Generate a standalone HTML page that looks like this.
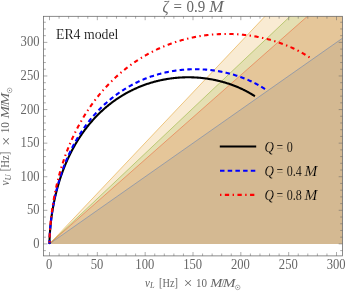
<!DOCTYPE html>
<html><head><meta charset="utf-8"><title>plot</title>
<style>
html,body{margin:0;padding:0;background:#fff;overflow:hidden}
svg{display:block;position:absolute;left:0;top:0;will-change:transform}
text{font-family:"Liberation Serif",serif;}
.g{fill:#666}
.i{font-style:italic}
</style></head><body>
<svg width="347" height="294" viewBox="0 0 347 294">
<rect x="0" y="0" width="347" height="294" fill="#fff"/>
<defs><clipPath id="c"><rect x="43.45" y="16.3" width="299.15" height="239.6"/></clipPath></defs>
<g clip-path="url(#c)">
<polygon points="49.5,243.9 342.63,38.09 342.63,243.9" fill="#5E81B5" fill-opacity="0.2"/>
<polygon points="49.5,243.9 342.63,-65.64 342.63,243.9" fill="#E19C24" fill-opacity="0.2"/>
<polygon points="49.5,243.9 342.63,-33.32 342.63,243.9" fill="#8FB032" fill-opacity="0.2"/>
<polygon points="49.5,243.9 342.63,-14.8 342.63,243.9" fill="#EB6235" fill-opacity="0.2"/>
<line x1="49.5" y1="243.9" x2="342.63" y2="38.09" stroke="#5E81B5" stroke-width="0.6" stroke-opacity="0.9"/>
<line x1="49.5" y1="243.9" x2="342.63" y2="-65.64" stroke="#E19C24" stroke-width="0.6" stroke-opacity="0.9"/>
<line x1="49.5" y1="243.9" x2="342.63" y2="-33.32" stroke="#8FB032" stroke-width="0.6" stroke-opacity="0.9"/>
<line x1="49.5" y1="243.9" x2="342.63" y2="-14.8" stroke="#EB6235" stroke-width="0.6" stroke-opacity="0.9"/>
<path d="M254.89 96.25 L254.31 95.87 L253.72 95.49 L253.12 95.11 L252.52 94.74 L251.93 94.37 L251.32 94.01 L250.72 93.65 L250.11 93.3 L249.5 92.95 L248.89 92.6 L248.28 92.26 L247.66 91.92 L247.05 91.59 L246.43 91.26 L245.8 90.93 L245.18 90.61 L244.55 90.29 L243.92 89.98 L243.29 89.67 L242.66 89.36 L242.03 89.06 L241.39 88.76 L240.75 88.47 L240.11 88.17 L239.47 87.89 L238.83 87.61 L238.18 87.33 L237.54 87.05 L236.89 86.78 L236.24 86.52 L235.59 86.25 L234.94 85.99 L234.28 85.74 L233.62 85.49 L232.97 85.24 L232.31 85 L231.65 84.76 L230.99 84.52 L230.32 84.29 L229.66 84.06 L228.99 83.84 L228.33 83.62 L227.66 83.4 L226.99 83.19 L226.32 82.98 L225.64 82.77 L224.97 82.57 L224.3 82.37 L223.62 82.18 L222.95 81.99 L222.27 81.8 L221.59 81.62 L220.91 81.44 L220.23 81.27 L219.55 81.1 L218.87 80.93 L218.18 80.77 L217.5 80.61 L216.81 80.45 L216.13 80.3 L215.44 80.15 L214.75 80 L214.07 79.86 L213.38 79.73 L212.69 79.59 L212 79.46 L211.31 79.34 L210.61 79.22 L209.92 79.1 L209.23 78.98 L208.53 78.87 L207.84 78.76 L207.15 78.66 L206.45 78.56 L205.75 78.47 L205.06 78.37 L204.36 78.29 L203.66 78.2 L202.97 78.12 L202.27 78.04 L201.57 77.97 L200.87 77.9 L200.17 77.83 L199.47 77.77 L198.77 77.71 L198.07 77.66 L197.37 77.61 L196.67 77.56 L195.97 77.52 L195.26 77.48 L194.56 77.44 L193.86 77.41 L193.16 77.38 L192.46 77.36 L191.75 77.34 L191.05 77.32 L190.35 77.31 L189.65 77.3 L188.95 77.29 L188.24 77.29 L187.54 77.29 L186.84 77.3 L186.13 77.31 L185.43 77.32 L184.73 77.34 L184.03 77.36 L183.33 77.38 L182.62 77.41 L181.92 77.44 L181.22 77.48 L180.52 77.52 L179.82 77.56 L179.12 77.61 L178.42 77.66 L177.72 77.71 L177.02 77.77 L176.32 77.83 L175.62 77.9 L174.92 77.97 L174.22 78.04 L173.52 78.12 L172.82 78.2 L172.13 78.29 L171.43 78.38 L170.73 78.47 L170.04 78.57 L169.34 78.67 L168.65 78.77 L167.95 78.88 L167.26 78.99 L166.57 79.1 L165.87 79.22 L165.18 79.35 L164.49 79.47 L163.8 79.6 L163.11 79.74 L162.42 79.87 L161.73 80.02 L161.05 80.16 L160.36 80.31 L159.67 80.46 L158.99 80.62 L158.31 80.78 L157.62 80.95 L156.94 81.11 L156.26 81.29 L155.58 81.46 L154.9 81.64 L154.22 81.83 L153.54 82.01 L152.87 82.2 L152.19 82.4 L151.52 82.6 L150.85 82.8 L150.17 83 L149.5 83.21 L148.83 83.43 L148.17 83.64 L147.5 83.86 L146.83 84.09 L146.17 84.32 L145.51 84.55 L144.84 84.78 L144.18 85.02 L143.52 85.27 L142.87 85.51 L142.21 85.76 L141.55 86.02 L140.9 86.27 L140.25 86.54 L139.6 86.8 L138.95 87.07 L138.3 87.34 L137.66 87.62 L137.01 87.9 L136.37 88.18 L135.73 88.47 L135.09 88.76 L134.45 89.05 L133.81 89.35 L133.18 89.65 L132.55 89.96 L131.91 90.26 L131.28 90.58 L130.66 90.89 L130.03 91.21 L129.41 91.53 L128.78 91.86 L128.16 92.19 L127.54 92.52 L126.93 92.86 L126.31 93.2 L125.7 93.54 L125.09 93.89 L124.48 94.24 L123.87 94.59 L123.27 94.95 L122.67 95.31 L122.06 95.67 L121.46 96.04 L120.87 96.41 L120.27 96.78 L119.68 97.16 L119.09 97.54 L118.5 97.92 L117.92 98.31 L117.33 98.7 L116.75 99.1 L116.17 99.49 L115.59 99.89 L115.02 100.3 L114.44 100.7 L113.87 101.11 L113.3 101.52 L112.74 101.94 L112.17 102.36 L111.61 102.78 L111.05 103.21 L110.5 103.63 L109.94 104.06 L109.39 104.5 L108.84 104.94 L108.29 105.38 L107.75 105.82 L107.2 106.27 L106.66 106.72 L106.13 107.17 L105.59 107.62 L105.06 108.08 L104.53 108.54 L104 109.01 L103.47 109.47 L102.95 109.94 L102.43 110.41 L101.91 110.89 L101.4 111.36 L100.89 111.85 L100.38 112.33 L99.87 112.81 L99.36 113.3 L98.86 113.79 L98.36 114.29 L97.86 114.78 L97.37 115.28 L96.88 115.78 L96.39 116.29 L95.9 116.8 L95.42 117.3 L94.94 117.82 L94.46 118.33 L93.98 118.85 L93.51 119.37 L93.04 119.89 L92.57 120.41 L92.1 120.94 L91.64 121.47 L91.18 122 L90.72 122.53 L90.27 123.07 L89.82 123.6 L89.37 124.14 L88.92 124.69 L88.48 125.23 L88.03 125.78 L87.6 126.33 L87.16 126.88 L86.73 127.43 L86.3 127.99 L85.87 128.54 L85.45 129.1 L85.02 129.66 L84.6 130.23 L84.19 130.79 L83.77 131.36 L83.36 131.93 L82.95 132.5 L82.55 133.08 L82.14 133.65 L81.74 134.23 L81.35 134.81 L80.95 135.39 L80.56 135.97 L80.17 136.56 L79.78 137.14 L79.4 137.73 L79.02 138.32 L78.64 138.91 L78.26 139.51 L77.89 140.1 L77.52 140.7 L77.15 141.3 L76.79 141.9 L76.42 142.5 L76.06 143.1 L75.71 143.71 L75.35 144.31 L75 144.92 L74.65 145.53 L74.31 146.14 L73.96 146.76 L73.62 147.37 L73.28 147.99 L72.95 148.6 L72.61 149.22 L72.28 149.84 L71.96 150.46 L71.63 151.09 L71.31 151.71 L70.99 152.34 L70.67 152.96 L70.36 153.59 L70.04 154.22 L69.73 154.85 L69.43 155.48 L69.12 156.12 L68.82 156.75 L68.52 157.39 L68.23 158.02 L67.93 158.66 L67.64 159.3 L67.35 159.94 L67.07 160.58 L66.78 161.22 L66.5 161.87 L66.22 162.51 L65.95 163.16 L65.67 163.81 L65.4 164.45 L65.13 165.1 L64.87 165.75 L64.6 166.41 L64.34 167.06 L64.08 167.71 L63.83 168.36 L63.57 169.02 L63.32 169.68 L63.07 170.33 L62.83 170.99 L62.58 171.65 L62.34 172.31 L62.1 172.97 L61.87 173.63 L61.63 174.29 L61.4 174.96 L61.17 175.62 L60.95 176.29 L60.72 176.95 L60.5 177.62 L60.28 178.29 L60.06 178.95 L59.85 179.62 L59.63 180.29 L59.42 180.96 L59.22 181.63 L59.01 182.31 L58.81 182.98 L58.61 183.65 L58.41 184.33 L58.21 185 L58.02 185.68 L57.83 186.35 L57.64 187.03 L57.45 187.7 L57.26 188.38 L57.08 189.06 L56.9 189.74 L56.72 190.42 L56.55 191.1 L56.37 191.78 L56.2 192.46 L56.03 193.14 L55.87 193.83 L55.7 194.51 L55.54 195.19 L55.38 195.88 L55.22 196.56 L55.06 197.25 L54.91 197.93 L54.76 198.62 L54.61 199.3 L54.46 199.99 L54.32 200.68 L54.17 201.37 L54.03 202.05 L53.9 202.74 L53.76 203.43 L53.62 204.12 L53.49 204.81 L53.36 205.5 L53.23 206.19 L53.11 206.88 L52.99 207.58 L52.86 208.27 L52.74 208.96 L52.63 209.65 L52.51 210.35 L52.4 211.04 L52.29 211.73 L52.18 212.43 L52.07 213.12 L51.97 213.82 L51.86 214.51 L51.76 215.21 L51.67 215.9 L51.57 216.6 L51.47 217.29 L51.38 217.99 L51.29 218.69 L51.2 219.38 L51.12 220.08 L51.03 220.78 L50.95 221.48 L50.87 222.17 L50.8 222.87 L50.72 223.57 L50.65 224.27 L50.57 224.97 L50.51 225.67 L50.44 226.37 L50.37 227.07 L50.31 227.77 L50.25 228.47 L50.19 229.17 L50.13 229.87 L50.08 230.57 L50.03 231.27 L49.98 231.97 L49.93 232.67 L49.88 233.37 L49.84 234.07 L49.8 234.77 L49.76 235.47 L49.73 236.18 L49.69 236.88 L49.66 237.58 L49.63 238.28 L49.6 238.98 L49.58 239.69 L49.56 240.39 L49.54 241.09 L49.52 241.79 L49.51 242.49 L49.5 243.2 L49.5 243.9 L49.5 243.9" fill="none" stroke="#000" stroke-width="2.1"/>
<path d="M265.01 89.1 L264.42 88.72 L263.83 88.34 L263.24 87.96 L262.64 87.59 L262.05 87.22 L261.45 86.86 L260.84 86.5 L260.24 86.14 L259.63 85.79 L259.02 85.44 L258.41 85.1 L257.8 84.76 L257.18 84.42 L256.56 84.09 L255.94 83.76 L255.32 83.43 L254.69 83.11 L254.07 82.79 L253.44 82.48 L252.81 82.17 L252.18 81.87 L251.55 81.56 L250.91 81.26 L250.27 80.97 L249.63 80.68 L248.99 80.39 L248.35 80.11 L247.71 79.83 L247.06 79.55 L246.41 79.28 L245.77 79.01 L245.12 78.75 L244.46 78.49 L243.81 78.23 L243.16 77.97 L242.5 77.72 L241.84 77.48 L241.18 77.24 L240.52 77 L239.86 76.76 L239.2 76.53 L238.53 76.3 L237.87 76.08 L237.2 75.86 L236.53 75.64 L235.87 75.43 L235.2 75.22 L234.52 75.01 L233.85 74.81 L233.18 74.61 L232.51 74.42 L231.83 74.22 L231.15 74.04 L230.48 73.85 L229.8 73.67 L229.12 73.49 L228.44 73.32 L227.76 73.15 L227.07 72.98 L226.39 72.82 L225.71 72.66 L225.02 72.51 L224.34 72.36 L223.65 72.21 L222.96 72.06 L222.28 71.92 L221.59 71.78 L220.9 71.65 L220.21 71.52 L219.52 71.39 L218.83 71.27 L218.13 71.15 L217.44 71.03 L216.75 70.92 L216.06 70.81 L215.36 70.71 L214.67 70.61 L213.97 70.51 L213.28 70.41 L212.58 70.32 L211.88 70.24 L211.19 70.15 L210.49 70.07 L209.79 69.99 L209.09 69.92 L208.39 69.85 L207.7 69.79 L207 69.72 L206.3 69.67 L205.6 69.61 L204.9 69.56 L204.2 69.51 L203.5 69.47 L202.79 69.43 L202.09 69.39 L201.39 69.35 L200.69 69.32 L199.99 69.3 L199.29 69.27 L198.59 69.25 L197.88 69.24 L197.18 69.23 L196.48 69.22 L195.78 69.21 L195.08 69.21 L194.37 69.21 L193.67 69.22 L192.97 69.23 L192.27 69.24 L191.57 69.26 L190.86 69.28 L190.16 69.3 L189.46 69.33 L188.76 69.36 L188.06 69.39 L187.36 69.43 L186.66 69.47 L185.96 69.52 L185.25 69.57 L184.55 69.62 L183.86 69.68 L183.16 69.73 L182.46 69.8 L181.76 69.86 L181.06 69.94 L180.36 70.01 L179.66 70.09 L178.97 70.17 L178.27 70.25 L177.57 70.34 L176.88 70.43 L176.18 70.53 L175.48 70.63 L174.79 70.73 L174.1 70.84 L173.4 70.95 L172.71 71.06 L172.02 71.18 L171.33 71.3 L170.64 71.42 L169.95 71.55 L169.26 71.68 L168.57 71.82 L167.88 71.96 L167.19 72.1 L166.5 72.24 L165.82 72.39 L165.13 72.55 L164.45 72.7 L163.77 72.86 L163.08 73.03 L162.4 73.19 L161.72 73.37 L161.04 73.54 L160.36 73.72 L159.68 73.9 L159.01 74.09 L158.33 74.27 L157.65 74.47 L156.98 74.66 L156.31 74.86 L155.64 75.07 L154.96 75.27 L154.29 75.48 L153.63 75.7 L152.96 75.91 L152.29 76.14 L151.63 76.36 L150.96 76.59 L150.3 76.82 L149.64 77.05 L148.98 77.29 L148.32 77.54 L147.66 77.78 L147 78.03 L146.35 78.28 L145.7 78.54 L145.04 78.8 L144.39 79.06 L143.74 79.33 L143.09 79.6 L142.45 79.87 L141.8 80.15 L141.16 80.43 L140.52 80.71 L139.88 81 L139.24 81.29 L138.6 81.58 L137.96 81.88 L137.33 82.18 L136.7 82.49 L136.07 82.79 L135.44 83.11 L134.81 83.42 L134.18 83.74 L133.56 84.06 L132.94 84.38 L132.31 84.71 L131.7 85.04 L131.08 85.38 L130.46 85.71 L129.85 86.06 L129.24 86.4 L128.63 86.75 L128.02 87.1 L127.41 87.45 L126.81 87.81 L126.21 88.17 L125.61 88.53 L125.01 88.9 L124.41 89.27 L123.82 89.64 L123.22 90.02 L122.63 90.4 L122.04 90.78 L121.46 91.17 L120.87 91.56 L120.29 91.95 L119.71 92.34 L119.13 92.74 L118.56 93.14 L117.98 93.55 L117.41 93.95 L116.84 94.36 L116.27 94.78 L115.71 95.19 L115.14 95.61 L114.58 96.04 L114.02 96.46 L113.47 96.89 L112.91 97.32 L112.36 97.75 L111.81 98.19 L111.26 98.63 L110.72 99.07 L110.17 99.52 L109.63 99.96 L109.1 100.42 L108.56 100.87 L108.03 101.32 L107.5 101.78 L106.97 102.25 L106.44 102.71 L105.92 103.18 L105.39 103.65 L104.87 104.12 L104.36 104.59 L103.84 105.07 L103.33 105.55 L102.82 106.04 L102.31 106.52 L101.81 107.01 L101.31 107.5 L100.81 107.99 L100.31 108.49 L99.82 108.99 L99.32 109.49 L98.83 109.99 L98.35 110.5 L97.86 111 L97.38 111.51 L96.9 112.03 L96.42 112.54 L95.95 113.06 L95.48 113.58 L95.01 114.1 L94.54 114.62 L94.07 115.15 L93.61 115.68 L93.15 116.21 L92.7 116.74 L92.24 117.28 L91.79 117.82 L91.34 118.35 L90.89 118.9 L90.45 119.44 L90.01 119.99 L89.57 120.53 L89.13 121.08 L88.7 121.64 L88.27 122.19 L87.84 122.75 L87.41 123.3 L86.99 123.86 L86.57 124.43 L86.15 124.99 L85.74 125.56 L85.32 126.12 L84.91 126.69 L84.5 127.26 L84.1 127.84 L83.7 128.41 L83.3 128.99 L82.9 129.57 L82.5 130.15 L82.11 130.73 L81.72 131.32 L81.33 131.9 L80.95 132.49 L80.57 133.08 L80.19 133.67 L79.81 134.26 L79.44 134.85 L79.07 135.45 L78.7 136.05 L78.33 136.65 L77.97 137.25 L77.6 137.85 L77.25 138.45 L76.89 139.06 L76.54 139.66 L76.18 140.27 L75.84 140.88 L75.49 141.49 L75.15 142.1 L74.8 142.72 L74.47 143.33 L74.13 143.95 L73.8 144.57 L73.47 145.19 L73.14 145.81 L72.81 146.43 L72.49 147.05 L72.17 147.68 L71.85 148.3 L71.53 148.93 L71.22 149.56 L70.91 150.19 L70.6 150.82 L70.3 151.45 L69.99 152.08 L69.69 152.72 L69.39 153.35 L69.1 153.99 L68.8 154.63 L68.51 155.27 L68.22 155.91 L67.94 156.55 L67.65 157.19 L67.37 157.83 L67.09 158.48 L66.82 159.12 L66.54 159.77 L66.27 160.42 L66 161.06 L65.73 161.71 L65.47 162.36 L65.21 163.01 L64.95 163.67 L64.69 164.32 L64.43 164.97 L64.18 165.63 L63.93 166.29 L63.68 166.94 L63.44 167.6 L63.19 168.26 L62.95 168.92 L62.71 169.58 L62.48 170.24 L62.24 170.9 L62.01 171.56 L61.78 172.23 L61.55 172.89 L61.33 173.56 L61.11 174.22 L60.89 174.89 L60.67 175.56 L60.45 176.22 L60.24 176.89 L60.03 177.56 L59.82 178.23 L59.61 178.9 L59.4 179.57 L59.2 180.25 L59 180.92 L58.8 181.59 L58.61 182.27 L58.41 182.94 L58.22 183.62 L58.03 184.29 L57.85 184.97 L57.66 185.65 L57.48 186.33 L57.3 187 L57.12 187.68 L56.94 188.36 L56.77 189.04 L56.6 189.72 L56.43 190.4 L56.26 191.09 L56.09 191.77 L55.93 192.45 L55.77 193.13 L55.61 193.82 L55.45 194.5 L55.29 195.19 L55.14 195.87 L54.99 196.56 L54.84 197.24 L54.69 197.93 L54.55 198.62 L54.41 199.3 L54.26 199.99 L54.13 200.68 L53.99 201.37 L53.85 202.06 L53.72 202.75 L53.59 203.44 L53.46 204.13 L53.34 204.82 L53.21 205.51 L53.09 206.2 L52.97 206.89 L52.85 207.58 L52.73 208.28 L52.62 208.97 L52.51 209.66 L52.4 210.35 L52.29 211.05 L52.18 211.74 L52.08 212.44 L51.97 213.13 L51.87 213.83 L51.78 214.52 L51.68 215.22 L51.58 215.91 L51.49 216.61 L51.4 217.3 L51.31 218 L51.23 218.7 L51.14 219.39 L51.06 220.09 L50.98 220.79 L50.9 221.49 L50.82 222.18 L50.75 222.88 L50.68 223.58 L50.6 224.28 L50.54 224.98 L50.47 225.68 L50.41 226.38 L50.34 227.08 L50.28 227.78 L50.22 228.48 L50.17 229.17 L50.11 229.87 L50.06 230.57 L50.01 231.27 L49.96 231.98 L49.92 232.68 L49.87 233.38 L49.83 234.08 L49.79 234.78 L49.75 235.48 L49.72 236.18 L49.68 236.88 L49.65 237.58 L49.63 238.29 L49.6 238.99 L49.58 239.69 L49.56 240.39 L49.54 241.09 L49.52 241.79 L49.51 242.5 L49.5 243.2 L49.5 243.9 L49.5 243.9" fill="none" stroke="#0000ff" stroke-width="2.1" stroke-dasharray="4.5 3.2"/>
<path d="M309.59 57.47 L309.01 57.08 L308.42 56.7 L307.83 56.32 L307.23 55.95 L306.64 55.58 L306.04 55.21 L305.44 54.84 L304.84 54.48 L304.24 54.13 L303.63 53.77 L303.03 53.42 L302.42 53.07 L301.81 52.73 L301.19 52.39 L300.58 52.05 L299.96 51.71 L299.34 51.38 L298.72 51.05 L298.1 50.73 L297.48 50.41 L296.85 50.09 L296.23 49.78 L295.6 49.46 L294.97 49.16 L294.34 48.85 L293.7 48.55 L293.07 48.25 L292.43 47.96 L291.8 47.66 L291.16 47.37 L290.52 47.09 L289.87 46.81 L289.23 46.53 L288.59 46.25 L287.94 45.98 L287.29 45.71 L286.64 45.44 L285.99 45.18 L285.34 44.92 L284.69 44.66 L284.04 44.41 L283.38 44.16 L282.72 43.91 L282.07 43.66 L281.41 43.42 L280.75 43.18 L280.09 42.95 L279.43 42.72 L278.76 42.49 L278.1 42.26 L277.43 42.04 L276.77 41.82 L276.1 41.6 L275.43 41.39 L274.76 41.18 L274.09 40.97 L273.42 40.77 L272.75 40.56 L272.08 40.37 L271.4 40.17 L270.73 39.98 L270.05 39.79 L269.38 39.6 L268.7 39.42 L268.02 39.24 L267.34 39.07 L266.67 38.89 L265.98 38.72 L265.3 38.55 L264.62 38.39 L263.94 38.23 L263.26 38.07 L262.57 37.91 L261.89 37.76 L261.2 37.61 L260.52 37.46 L259.83 37.32 L259.14 37.18 L258.45 37.04 L257.77 36.91 L257.08 36.78 L256.39 36.65 L255.7 36.52 L255.01 36.4 L254.32 36.28 L253.62 36.17 L252.93 36.05 L252.24 35.94 L251.55 35.83 L250.85 35.73 L250.16 35.63 L249.46 35.53 L248.77 35.43 L248.07 35.34 L247.38 35.25 L246.68 35.17 L245.99 35.08 L245.29 35 L244.59 34.92 L243.89 34.85 L243.2 34.78 L242.5 34.71 L241.8 34.64 L241.1 34.58 L240.4 34.52 L239.7 34.46 L239 34.41 L238.3 34.36 L237.61 34.31 L236.91 34.27 L236.2 34.23 L235.5 34.19 L234.8 34.15 L234.1 34.12 L233.4 34.09 L232.7 34.06 L232 34.04 L231.3 34.02 L230.6 34 L229.9 33.98 L229.2 33.97 L228.49 33.96 L227.79 33.95 L227.09 33.95 L226.39 33.95 L225.69 33.95 L224.99 33.96 L224.29 33.97 L223.58 33.98 L222.88 33.99 L222.18 34.01 L221.48 34.03 L220.78 34.05 L220.08 34.08 L219.38 34.11 L218.68 34.14 L217.98 34.18 L217.28 34.22 L216.58 34.26 L215.88 34.3 L215.18 34.35 L214.48 34.4 L213.78 34.45 L213.08 34.51 L212.38 34.57 L211.68 34.63 L210.98 34.69 L210.28 34.76 L209.59 34.83 L208.89 34.91 L208.19 34.98 L207.5 35.06 L206.8 35.14 L206.1 35.23 L205.41 35.32 L204.71 35.41 L204.02 35.5 L203.32 35.6 L202.63 35.7 L201.93 35.8 L201.24 35.91 L200.55 36.02 L199.86 36.13 L199.16 36.25 L198.47 36.36 L197.78 36.49 L197.09 36.61 L196.4 36.74 L195.71 36.87 L195.02 37 L194.33 37.13 L193.65 37.27 L192.96 37.41 L192.27 37.56 L191.59 37.71 L190.9 37.86 L190.22 38.01 L189.54 38.17 L188.85 38.32 L188.17 38.49 L187.49 38.65 L186.81 38.82 L186.13 38.99 L185.45 39.16 L184.77 39.34 L184.09 39.52 L183.41 39.7 L182.74 39.89 L182.06 40.08 L181.39 40.27 L180.71 40.46 L180.04 40.66 L179.37 40.86 L178.69 41.06 L178.02 41.27 L177.36 41.48 L176.69 41.69 L176.02 41.9 L175.35 42.12 L174.69 42.34 L174.02 42.56 L173.36 42.79 L172.69 43.02 L172.03 43.25 L171.37 43.48 L170.71 43.72 L170.05 43.96 L169.39 44.2 L168.74 44.45 L168.08 44.7 L167.43 44.95 L166.77 45.2 L166.12 45.46 L165.47 45.72 L164.82 45.98 L164.17 46.25 L163.52 46.52 L162.87 46.79 L162.23 47.07 L161.59 47.34 L160.94 47.62 L160.3 47.91 L159.66 48.19 L159.02 48.48 L158.38 48.77 L157.74 49.06 L157.11 49.36 L156.48 49.66 L155.84 49.96 L155.21 50.27 L154.58 50.57 L153.95 50.88 L153.32 51.2 L152.7 51.51 L152.07 51.83 L151.45 52.15 L150.83 52.48 L150.21 52.8 L149.59 53.13 L148.97 53.47 L148.35 53.8 L147.74 54.14 L147.12 54.48 L146.51 54.82 L145.9 55.17 L145.29 55.52 L144.69 55.87 L144.08 56.22 L143.48 56.57 L142.87 56.93 L142.27 57.3 L141.67 57.66 L141.07 58.03 L140.48 58.39 L139.88 58.77 L139.29 59.14 L138.7 59.52 L138.11 59.9 L137.52 60.28 L136.93 60.66 L136.35 61.05 L135.76 61.44 L135.18 61.83 L134.6 62.23 L134.02 62.62 L133.45 63.02 L132.87 63.42 L132.3 63.83 L131.73 64.24 L131.16 64.64 L130.59 65.06 L130.03 65.47 L129.46 65.89 L128.9 66.31 L128.34 66.73 L127.78 67.15 L127.22 67.58 L126.67 68.01 L126.11 68.44 L125.56 68.87 L125.01 69.31 L124.46 69.74 L123.92 70.18 L123.37 70.63 L122.83 71.07 L122.29 71.52 L121.75 71.97 L121.22 72.42 L120.68 72.87 L120.15 73.33 L119.62 73.79 L119.09 74.25 L118.56 74.71 L118.04 75.18 L117.51 75.64 L116.99 76.11 L116.47 76.58 L115.96 77.06 L115.44 77.53 L114.93 78.01 L114.42 78.49 L113.91 78.97 L113.4 79.46 L112.89 79.95 L112.39 80.43 L111.89 80.92 L111.39 81.42 L110.89 81.91 L110.4 82.41 L109.91 82.91 L109.41 83.41 L108.92 83.91 L108.44 84.42 L107.95 84.92 L107.47 85.43 L106.99 85.94 L106.51 86.45 L106.03 86.97 L105.56 87.48 L105.09 88 L104.62 88.52 L104.15 89.05 L103.68 89.57 L103.22 90.09 L102.75 90.62 L102.29 91.15 L101.84 91.68 L101.38 92.22 L100.93 92.75 L100.47 93.29 L100.02 93.83 L99.58 94.37 L99.13 94.91 L98.69 95.45 L98.25 96 L97.81 96.54 L97.37 97.09 L96.94 97.64 L96.5 98.19 L96.07 98.75 L95.64 99.3 L95.22 99.86 L94.79 100.42 L94.37 100.98 L93.95 101.54 L93.53 102.1 L93.12 102.67 L92.7 103.24 L92.29 103.8 L91.88 104.37 L91.48 104.94 L91.07 105.52 L90.67 106.09 L90.27 106.67 L89.87 107.24 L89.47 107.82 L89.08 108.4 L88.69 108.98 L88.3 109.57 L87.91 110.15 L87.52 110.74 L87.14 111.32 L86.76 111.91 L86.38 112.5 L86 113.09 L85.62 113.69 L85.25 114.28 L84.88 114.88 L84.51 115.47 L84.14 116.07 L83.78 116.67 L83.42 117.27 L83.06 117.87 L82.7 118.47 L82.34 119.08 L81.99 119.68 L81.64 120.29 L81.29 120.9 L80.94 121.51 L80.59 122.12 L80.25 122.73 L79.91 123.34 L79.57 123.96 L79.23 124.57 L78.9 125.19 L78.56 125.8 L78.23 126.42 L77.9 127.04 L77.58 127.66 L77.25 128.28 L76.93 128.91 L76.61 129.53 L76.29 130.15 L75.97 130.78 L75.66 131.41 L75.35 132.04 L75.04 132.67 L74.73 133.3 L74.42 133.93 L74.12 134.56 L73.82 135.19 L73.52 135.83 L73.22 136.46 L72.92 137.1 L72.63 137.73 L72.34 138.37 L72.05 139.01 L71.76 139.65 L71.47 140.29 L71.19 140.93 L70.91 141.57 L70.63 142.22 L70.35 142.86 L70.07 143.51 L69.8 144.15 L69.53 144.8 L69.26 145.44 L68.99 146.09 L68.72 146.74 L68.46 147.39 L68.2 148.04 L67.94 148.69 L67.68 149.35 L67.42 150 L67.17 150.65 L66.92 151.31 L66.67 151.96 L66.42 152.62 L66.17 153.28 L65.93 153.93 L65.69 154.59 L65.45 155.25 L65.21 155.91 L64.97 156.57 L64.74 157.23 L64.5 157.89 L64.27 158.56 L64.05 159.22 L63.82 159.88 L63.59 160.55 L63.37 161.21 L63.15 161.88 L62.93 162.54 L62.71 163.21 L62.5 163.88 L62.28 164.55 L62.07 165.21 L61.86 165.88 L61.65 166.55 L61.45 167.22 L61.24 167.89 L61.04 168.57 L60.84 169.24 L60.64 169.91 L60.44 170.58 L60.25 171.26 L60.05 171.93 L59.86 172.61 L59.67 173.28 L59.49 173.96 L59.3 174.63 L59.11 175.31 L58.93 175.99 L58.75 176.67 L58.57 177.34 L58.4 178.02 L58.22 178.7 L58.05 179.38 L57.88 180.06 L57.71 180.74 L57.54 181.42 L57.37 182.1 L57.21 182.79 L57.04 183.47 L56.88 184.15 L56.72 184.83 L56.57 185.52 L56.41 186.2 L56.26 186.89 L56.1 187.57 L55.95 188.26 L55.81 188.94 L55.66 189.63 L55.51 190.31 L55.37 191 L55.23 191.69 L55.09 192.37 L54.95 193.06 L54.81 193.75 L54.68 194.44 L54.54 195.13 L54.41 195.82 L54.28 196.5 L54.16 197.19 L54.03 197.88 L53.9 198.57 L53.78 199.26 L53.66 199.96 L53.54 200.65 L53.42 201.34 L53.31 202.03 L53.19 202.72 L53.08 203.41 L52.97 204.11 L52.86 204.8 L52.75 205.49 L52.65 206.19 L52.54 206.88 L52.44 207.57 L52.34 208.27 L52.24 208.96 L52.14 209.66 L52.04 210.35 L51.95 211.05 L51.86 211.74 L51.77 212.44 L51.68 213.13 L51.59 213.83 L51.5 214.53 L51.42 215.22 L51.34 215.92 L51.26 216.61 L51.18 217.31 L51.1 218.01 L51.02 218.71 L50.95 219.4 L50.88 220.1 L50.81 220.8 L50.74 221.5 L50.67 222.2 L50.61 222.89 L50.54 223.59 L50.48 224.29 L50.42 224.99 L50.36 225.69 L50.3 226.39 L50.25 227.09 L50.19 227.79 L50.14 228.49 L50.09 229.19 L50.05 229.88 L50 230.58 L49.95 231.28 L49.91 231.98 L49.87 232.68 L49.83 233.39 L49.79 234.09 L49.76 234.79 L49.73 235.49 L49.7 236.19 L49.67 236.89 L49.64 237.59 L49.61 238.29 L49.59 238.99 L49.57 239.69 L49.55 240.39 L49.54 241.09 L49.52 241.8 L49.51 242.5 L49.5 243.2 L49.5 243.9 L49.5 243.9" fill="none" stroke="#ff0000" stroke-width="2.1" stroke-dasharray="1.4 3.45 4.3 3.45"/>
</g>
<g stroke="#666" stroke-width="0.75" fill="none">
<rect x="43.45" y="16.3" width="299.15" height="239.6"/>
<path stroke-width="0.55" d="M49.5 255.9v-3.9M49.5 16.3v3.9M59.07 255.9v-2.4M59.07 16.3v2.4M68.63 255.9v-2.4M68.63 16.3v2.4M78.2 255.9v-2.4M78.2 16.3v2.4M87.77 255.9v-2.4M87.77 16.3v2.4M97.34 255.9v-3.9M97.34 16.3v3.9M106.9 255.9v-2.4M106.9 16.3v2.4M116.47 255.9v-2.4M116.47 16.3v2.4M126.04 255.9v-2.4M126.04 16.3v2.4M135.6 255.9v-2.4M135.6 16.3v2.4M145.17 255.9v-3.9M145.17 16.3v3.9M154.74 255.9v-2.4M154.74 16.3v2.4M164.3 255.9v-2.4M164.3 16.3v2.4M173.87 255.9v-2.4M173.87 16.3v2.4M183.44 255.9v-2.4M183.44 16.3v2.4M193 255.9v-3.9M193 16.3v3.9M202.57 255.9v-2.4M202.57 16.3v2.4M212.14 255.9v-2.4M212.14 16.3v2.4M221.71 255.9v-2.4M221.71 16.3v2.4M231.27 255.9v-2.4M231.27 16.3v2.4M240.84 255.9v-3.9M240.84 16.3v3.9M250.41 255.9v-2.4M250.41 16.3v2.4M259.97 255.9v-2.4M259.97 16.3v2.4M269.54 255.9v-2.4M269.54 16.3v2.4M279.11 255.9v-2.4M279.11 16.3v2.4M288.68 255.9v-3.9M288.68 16.3v3.9M298.24 255.9v-2.4M298.24 16.3v2.4M307.81 255.9v-2.4M307.81 16.3v2.4M317.38 255.9v-2.4M317.38 16.3v2.4M326.94 255.9v-2.4M326.94 16.3v2.4M336.51 255.9v-3.9M336.51 16.3v3.9M43.45 250.62h2.4M342.6 250.62h-2.4M43.45 243.9h3.9M342.6 243.9h-3.9M43.45 237.18h2.4M342.6 237.18h-2.4M43.45 230.47h2.4M342.6 230.47h-2.4M43.45 223.75h2.4M342.6 223.75h-2.4M43.45 217.03h2.4M342.6 217.03h-2.4M43.45 210.31h3.9M342.6 210.31h-3.9M43.45 203.6h2.4M342.6 203.6h-2.4M43.45 196.88h2.4M342.6 196.88h-2.4M43.45 190.16h2.4M342.6 190.16h-2.4M43.45 183.45h2.4M342.6 183.45h-2.4M43.45 176.73h3.9M342.6 176.73h-3.9M43.45 170.01h2.4M342.6 170.01h-2.4M43.45 163.3h2.4M342.6 163.3h-2.4M43.45 156.58h2.4M342.6 156.58h-2.4M43.45 149.86h2.4M342.6 149.86h-2.4M43.45 143.15h3.9M342.6 143.15h-3.9M43.45 136.43h2.4M342.6 136.43h-2.4M43.45 129.71h2.4M342.6 129.71h-2.4M43.45 122.99h2.4M342.6 122.99h-2.4M43.45 116.28h2.4M342.6 116.28h-2.4M43.45 109.56h3.9M342.6 109.56h-3.9M43.45 102.84h2.4M342.6 102.84h-2.4M43.45 96.13h2.4M342.6 96.13h-2.4M43.45 89.41h2.4M342.6 89.41h-2.4M43.45 82.69h2.4M342.6 82.69h-2.4M43.45 75.98h3.9M342.6 75.98h-3.9M43.45 69.26h2.4M342.6 69.26h-2.4M43.45 62.54h2.4M342.6 62.54h-2.4M43.45 55.82h2.4M342.6 55.82h-2.4M43.45 49.11h2.4M342.6 49.11h-2.4M43.45 42.39h3.9M342.6 42.39h-3.9M43.45 35.67h2.4M342.6 35.67h-2.4M43.45 28.96h2.4M342.6 28.96h-2.4M43.45 22.24h2.4M342.6 22.24h-2.4"/>
</g>
<g class="g">
<text transform="translate(49.1,269.2) scale(1,1.11)" font-size="12.6" text-anchor="middle">0</text>
<text transform="translate(96.94,269.2) scale(1,1.11)" font-size="12.6" text-anchor="middle">50</text>
<text transform="translate(144.77,269.2) scale(1,1.11)" font-size="12.6" text-anchor="middle">100</text>
<text transform="translate(192.6,269.2) scale(1,1.11)" font-size="12.6" text-anchor="middle">150</text>
<text transform="translate(240.44,269.2) scale(1,1.11)" font-size="12.6" text-anchor="middle">200</text>
<text transform="translate(288.28,269.2) scale(1,1.11)" font-size="12.6" text-anchor="middle">250</text>
<text transform="translate(336.11,269.2) scale(1,1.11)" font-size="12.6" text-anchor="middle">300</text>
<text transform="translate(39.5,247.9) scale(1,1.11)" font-size="12.6" text-anchor="end">0</text>
<text transform="translate(39.5,214.31) scale(1,1.11)" font-size="12.6" text-anchor="end">50</text>
<text transform="translate(39.5,180.73) scale(1,1.11)" font-size="12.6" text-anchor="end">100</text>
<text transform="translate(39.5,147.15) scale(1,1.11)" font-size="12.6" text-anchor="end">150</text>
<text transform="translate(39.5,113.56) scale(1,1.11)" font-size="12.6" text-anchor="end">200</text>
<text transform="translate(39.5,79.98) scale(1,1.11)" font-size="12.6" text-anchor="end">250</text>
<text transform="translate(39.5,46.39) scale(1,1.11)" font-size="12.6" text-anchor="end">300</text>
</g>
<g class="g">
<text transform="translate(162.6,11.5) scale(1,1.07)" font-size="15" class="i">ζ</text>
<text transform="translate(173.4,11.5) scale(1,1.07)" font-size="15">=</text>
<text transform="translate(186.5,11.5) scale(1,1.07)" font-size="15">0.9</text>
<text transform="translate(209.3,11.5) scale(1.15,1.07)" font-size="15" class="i">M</text>
</g>
<text transform="translate(56,38.7) scale(1,1.07)" font-size="13.8" fill="#000" stroke="#fff" stroke-width="0.14">ER4 model</text>
<g class="g" transform="translate(145.5,286.6)">
<text transform="translate(-0.5,0) scale(1,1.06)" font-size="11" class="i">ν</text>
<text transform="translate(4.4,1.7) scale(1,1.06)" font-size="8.3" class="i">L</text>
<text transform="translate(13.5,0.2) scale(0.94,1.06)" font-size="11">[Hz]</text>
<text transform="translate(38.2,1.7) scale(1,1)" font-size="15.3">×</text>
<text transform="translate(50.4,0.2) scale(0.95,1.06)" font-size="11.6">10</text>
<text transform="translate(64.8,0.2) scale(1.32,1.06)" font-size="11" class="i">M</text>
<text transform="translate(76.1,0.2) scale(1,1.06)" font-size="11">/</text>
<text transform="translate(77.6,0.2) scale(1.36,1.06)" font-size="11" class="i">M</text>
<circle cx="92.2" cy="0.8" r="2.3" fill="none" stroke="#666" stroke-width="0.5"/><circle cx="92.2" cy="0.8" r="0.55" fill="#666"/>
</g>
<g class="g" transform="translate(8.8,185.1) rotate(-90) scale(1.027,1)">
<text transform="translate(-0.5,0) scale(1,1.06)" font-size="11" class="i">ν</text>
<text transform="translate(4.4,1.7) scale(1,1.06)" font-size="8.3" class="i">U</text>
<text transform="translate(13.5,0.2) scale(0.94,1.06)" font-size="11">[Hz]</text>
<text transform="translate(38.2,1.7) scale(1,1)" font-size="15.3">×</text>
<text transform="translate(50.4,0.2) scale(0.95,1.06)" font-size="11.6">10</text>
<text transform="translate(64.8,0.2) scale(1.32,1.06)" font-size="11" class="i">M</text>
<text transform="translate(76.1,0.2) scale(1,1.06)" font-size="11">/</text>
<text transform="translate(77.6,0.2) scale(1.36,1.06)" font-size="11" class="i">M</text>
<circle cx="92.2" cy="0.8" r="2.3" fill="none" stroke="#666" stroke-width="0.5"/><circle cx="92.2" cy="0.8" r="0.55" fill="#666"/>
</g>
<path d="M219.8 146.5H256.2" stroke="#000" stroke-width="2.1"/>
<path d="M220 170.8H256.2" stroke="#0000ff" stroke-width="2.1" stroke-dasharray="4.5 3.2"/>
<path d="M220 194.9H256.2" stroke="#ff0000" stroke-width="2.1" stroke-dasharray="1.4 3.45 4.3 3.45"/>
<g fill="#000" stroke="#D5B992" stroke-width="0.14">
<text transform="translate(264.6,151.5) scale(1,1.07)" font-size="13" class="i">Q</text>
<text transform="translate(276.6,151.5) scale(0.9,1.07)" font-size="13">=</text>
<text transform="translate(286.8,151.5) scale(0.93,1.07)" font-size="13">0</text>
<text transform="translate(264.6,175.6) scale(1,1.07)" font-size="13" class="i">Q</text>
<text transform="translate(276.6,175.6) scale(0.9,1.07)" font-size="13">=</text>
<text transform="translate(286.8,175.6) scale(0.93,1.07)" font-size="13">0.4</text>
<text transform="translate(304.4,175.6) scale(1.18,1.07)" font-size="13" class="i">M</text>
<text transform="translate(264.6,199.7) scale(1,1.07)" font-size="13" class="i">Q</text>
<text transform="translate(276.6,199.7) scale(0.9,1.07)" font-size="13">=</text>
<text transform="translate(286.8,199.7) scale(0.93,1.07)" font-size="13">0.8</text>
<text transform="translate(304.4,199.7) scale(1.18,1.07)" font-size="13" class="i">M</text>
</g>
</svg></body></html>
